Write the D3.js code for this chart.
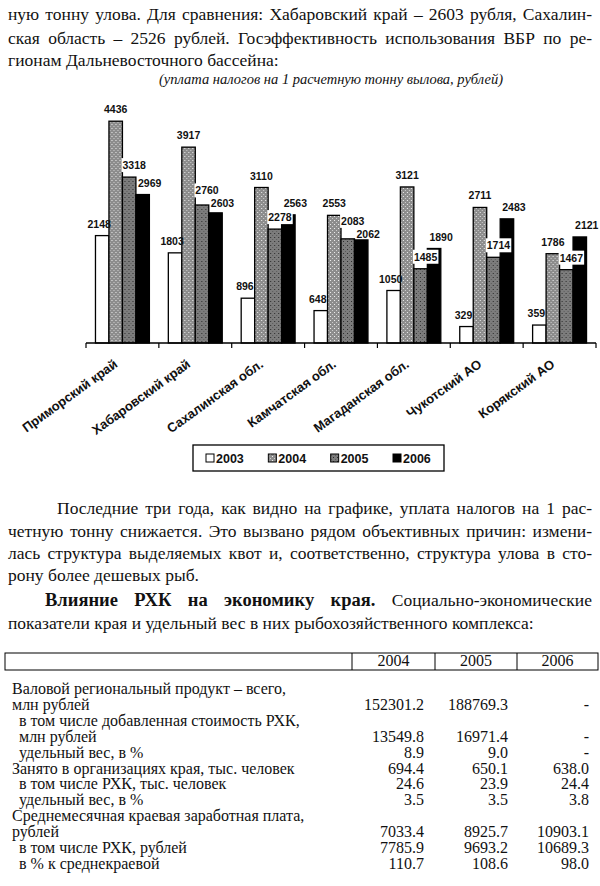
<!DOCTYPE html>
<html>
<head>
<meta charset="utf-8">
<script src="https://cdnjs.cloudflare.com/ajax/libs/d3/7.8.5/d3.min.js"></script>
<style>
  html, body { margin: 0; padding: 0; background: #fff; }
  svg { display: block; }
</style>
</head>
<body>
<script>
// chart data (уплата налогов на 1 расчетную тонну вылова, рублей)
var regions = ["Приморский край", "Хабаровский край", "Сахалинская обл.", "Камчатская обл.",
               "Магаданская обл.", "Чукотский АО", "Корякский АО"];
var years = ["2003", "2004", "2005", "2006"];
var s2003 = [2148, 1803, 896, 648, 1050, 329, 359];
var s2004 = [4436, 3917, 3110, 2553, 3121, 2711, 1786];
var s2005 = [3318, 2760, 2278, 2083, 1485, 1714, 1467];
var s2006 = [2969, 2603, 2563, 2062, 1890, 2483, 2121];

// table data
var tableYears = ["2004", "2005", "2006"];
var rowLabels = [
  "Валовой региональный продукт – всего,",
  "млн рублей",
  "в том числе добавленная стоимость РХК,",
  "млн рублей",
  "удельный вес, в %",
  "Занято в организациях края, тыс. человек",
  "в том числе РХК, тыс. человек",
  "удельный вес, в %",
  "Среднемесячная краевая заработная плата,",
  "рублей",
  "в том числе РХК, рублей",
  "в % к среднекраевой"
];
var rowIndent = [0, 0, 1, 1, 1, 0, 1, 1, 0, 0, 1, 1];
var v2004 = ["", "152301.2", "", "13549.8", "8.9", "694.4", "24.6", "3.5", "", "7033.4", "7785.9", "110.7"];
var v2005 = ["", "188769.3", "", "16971.4", "9.0", "650.1", "23.9", "3.5", "", "8925.7", "9693.2", "108.6"];
var v2006 = ["", "-", "", "-", "-", "638.0", "24.4", "3.8", "", "10903.1", "10689.3", "98.0"];

var series = [s2003, s2004, s2005, s2006];

var width = 600, height = 886;
var svg = d3.select("body").append("svg")
  .attr("width", width).attr("height", height);
svg.append("rect").attr("width", width).attr("height", height).attr("fill", "#fff");

var serif = "font-family:'Liberation Serif','Times New Roman',serif;";
var bodyFont = serif + "font-size:17.5px;";
var boldFont = serif + "font-size:18.5px;font-weight:bold;";
var sans = "font-family:'Liberation Sans',Arial,sans-serif;font-weight:bold;";

// helper text for measuring
var meas = svg.append("text").attr("x", -1000).attr("y", -1000);
function measure(str, style) {
  meas.attr("style", style).text(str);
  return meas.node().getComputedTextLength();
}

// lay out one line word by word, justified or not
function line(segs, x0, x1, y, justify) {
  var words = [];
  segs.forEach(function(s) {
    s.text.split(" ").filter(function(w) { return w; }).forEach(function(w) {
      words.push({ w: w, style: s.style });
    });
  });
  var widths = words.map(function(d) { return measure(d.w, d.style); });
  var total = d3.sum(widths);
  var gap = justify ? (x1 - x0 - total) / (words.length - 1)
                    : measure("a a", segs[0].style) - measure("aa", segs[0].style);
  var x = x0;
  words.forEach(function(d, i) {
    svg.append("text").attr("x", x).attr("y", y).attr("style", d.style)
      .attr("fill", "#111").text(d.w);
    x += widths[i] + gap;
  });
}

// text above the chart
line([{ text: "ную тонну улова. Для сравнения: Хабаровский край – 2603 рубля, Сахалин-", style: bodyFont }], 8, 592, 20, true);
line([{ text: "ская область – 2526 рублей. Госэффективность использования ВБР по ре-", style: bodyFont }], 8, 592, 44, true);
line([{ text: "гионам Дальневосточного бассейна:", style: bodyFont }], 8, 592, 66, false);
svg.append("text")
  .attr("x", 331).attr("y", 84)
  .attr("text-anchor", "middle")
  .attr("style", serif + "font-size:14.5px;font-style:italic;")
  .attr("fill", "#111")
  .text("(уплата налогов на 1 расчетную тонну вылова, рублей)");

// patterns for the grey bars
var defs = svg.append("defs");
var p4 = defs.append("pattern").attr("id", "p2004").attr("patternUnits", "userSpaceOnUse")
  .attr("width", 4).attr("height", 4);
p4.append("rect").attr("width", 4).attr("height", 4).attr("fill", "#8c8c8c");
p4.append("rect").attr("x", 0).attr("y", 0).attr("width", 1).attr("height", 1).attr("fill", "#f0f0f0");
p4.append("rect").attr("x", 2).attr("y", 2).attr("width", 1).attr("height", 1).attr("fill", "#cfcfcf");
var p5 = defs.append("pattern").attr("id", "p2005").attr("patternUnits", "userSpaceOnUse")
  .attr("width", 4).attr("height", 4);
p5.append("rect").attr("width", 4).attr("height", 4).attr("fill", "#7c7c7c");
p5.append("rect").attr("x", 1).attr("y", 1).attr("width", 1).attr("height", 1).attr("fill", "#2a2a2a");
p5.append("rect").attr("x", 3).attr("y", 3).attr("width", 1).attr("height", 1).attr("fill", "#5a5a5a");

var fills = ["#fff", "url(#p2004)", "url(#p2005)", "#000"];
var labelShift = [-3, 0, 5, 7];

// scales
var x0 = d3.scaleBand().domain(regions).range([86, 596]).paddingInner(0.26).paddingOuter(0.13);
var x1 = d3.scaleBand().domain(years).range([0, x0.bandwidth()]);
var y = d3.scaleLinear().domain([0, 5000]).range([343, 93]);

var chart = svg.append("g");

var groups = chart.selectAll("g.region")
  .data(regions)
  .enter().append("g")
  .attr("class", "region")
  .attr("transform", function(d) { return "translate(" + x0(d) + ",0)"; });

groups.selectAll("rect")
  .data(function(d, i) { return years.map(function(yr, k) { return { year: yr, k: k, value: series[k][i] }; }); })
  .enter().append("rect")
  .attr("x", function(d) { return x1(d.year); })
  .attr("y", function(d) { return y(d.value); })
  .attr("width", x1.bandwidth())
  .attr("height", function(d) { return y(0) - y(d.value); })
  .attr("fill", function(d) { return fills[d.k]; })
  .attr("stroke", "#000")
  .attr("stroke-width", 1.3);

// axis along the bottom
var axis = d3.axisBottom(x0).tickSize(0).tickFormat("");
var axisG = chart.append("g").attr("transform", "translate(0," + y(0) + ")").call(axis);
axisG.select(".domain").attr("stroke", "#000").attr("stroke-width", 1.5)
  .attr("d", "M" + x0.range()[0] + ",0H" + x0.range()[1]);
d3.range(regions.length + 1).forEach(function(i) {
  var tx = x0.range()[0] + i * x0.step();
  axisG.append("line").attr("x1", tx).attr("x2", tx).attr("y1", 0).attr("y2", 5)
    .attr("stroke", "#000").attr("stroke-width", 1.2);
});

// value labels; neighbouring labels that collide are pushed apart vertically
groups.each(function(region, i) {
  var g = d3.select(this);
  var labels = years.map(function(yr, k) {
    var v = series[k][i];
    var t = g.append("text")
      .attr("x", x1(yr) + x1.bandwidth() / 2 + labelShift[k])
      .attr("y", y(v) - 8)
      .attr("text-anchor", "middle")
      .attr("style", sans + "font-size:10.5px;")
      .attr("fill", "#111")
      .text(v);
    return t;
  });
  for (var k = 1; k < labels.length; k++) {
    var a = labels[k - 1].node().getBBox(), b = labels[k].node().getBBox();
    var xOver = a.x + a.width > b.x && b.x + b.width > a.x;
    var yOver = Math.min(a.y + a.height, b.y + b.height) - Math.max(a.y, b.y);
    if (xOver && yOver > 0) {
      var push = (yOver + 1) / 2;
      var upper = a.y <= b.y ? labels[k - 1] : labels[k];
      var lower = a.y <= b.y ? labels[k] : labels[k - 1];
      upper.attr("y", +upper.attr("y") - push);
      lower.attr("y", +lower.attr("y") + push);
    }
  }
  var t2 = labels[2], bb = t2.node().getBBox();
  g.insert("rect", function() { return t2.node(); })
    .attr("x", bb.x - 1).attr("y", bb.y - 1)
    .attr("width", bb.width + 2).attr("height", bb.height + 2)
    .attr("fill", "#fff");
});

// rotated category labels
chart.selectAll("text.cat")
  .data(regions)
  .enter().append("text")
  .attr("class", "cat")
  .attr("text-anchor", "end")
  .attr("style", sans + "font-size:13px;")
  .attr("fill", "#111")
  .attr("transform", function(d) {
    return "translate(" + (x0(d) + x0.bandwidth() / 2 - 4) + ",366) rotate(-36)";
  })
  .text(function(d) { return d; });

// legend
var legend = chart.append("g");
legend.append("rect").attr("x", 193).attr("y", 445).attr("width", 251).attr("height", 26)
  .attr("fill", "#fff").attr("stroke", "#000").attr("stroke-width", 1.3);
var lx = d3.scalePoint().domain(years).range([206, 393]);
years.forEach(function(yr, k) {
  legend.append("rect").attr("x", lx(yr)).attr("y", 454).attr("width", 8).attr("height", 8)
    .attr("fill", fills[k]).attr("stroke", "#000").attr("stroke-width", 1);
  legend.append("text").attr("x", lx(yr) + 10).attr("y", 463)
    .attr("style", sans + "font-size:12.5px;").attr("fill", "#111").text(yr);
});

// text below the chart
line([{ text: "Последние три года, как видно на графике, уплата налогов на 1 рас-", style: bodyFont }], 57, 592, 514, true);
line([{ text: "четную тонну снижается. Это вызвано рядом объективных причин: измени-", style: bodyFont }], 8, 592, 537, true);
line([{ text: "лась структура выделяемых квот и, соответственно, структура улова в сто-", style: bodyFont }], 8, 592, 559, true);
line([{ text: "рону более дешевых рыб.", style: bodyFont }], 8, 592, 581, false);
line([{ text: "Влияние РХК на экономику края.", style: boldFont },
      { text: "Социально-экономические", style: bodyFont }], 45, 592, 606, true);
line([{ text: "показатели края и удельный вес в них рыбохозяйственного комплекса:", style: bodyFont }], 8, 592, 629, false);

// table
var tableFont = serif + "font-size:16px;";
var colEdges = [352, 435, 517, 598];
var table = svg.append("g");
table.append("rect").attr("x", 5).attr("y", 653).attr("width", 593).attr("height", 17)
  .attr("fill", "none").attr("stroke", "#000").attr("stroke-width", 1);
colEdges.slice(0, 3).forEach(function(cx) {
  table.append("line").attr("x1", cx).attr("x2", cx).attr("y1", 653).attr("y2", 670)
    .attr("stroke", "#000").attr("stroke-width", 1);
});
tableYears.forEach(function(yr, j) {
  table.append("text").attr("x", (colEdges[j] + colEdges[j + 1]) / 2).attr("y", 666)
    .attr("text-anchor", "middle").attr("style", tableFont).attr("fill", "#111").text(yr);
});
var rowY = d3.scaleLinear().domain([0, rowLabels.length - 1]).range([694, 869]);
var cols = [v2004, v2005, v2006];
var colRight = [424, 508, 589];
rowLabels.forEach(function(lbl, i) {
  table.append("text").attr("x", rowIndent[i] ? 19 : 12).attr("y", rowY(i))
    .attr("style", tableFont).attr("fill", "#111").text(lbl);
  cols.forEach(function(col, j) {
    if (col[i] !== "") {
      table.append("text").attr("x", colRight[j]).attr("y", rowY(i))
        .attr("text-anchor", "end").attr("style", tableFont).attr("fill", "#111").text(col[i]);
    }
  });
});

meas.remove();
</script>
</body>
</html>
